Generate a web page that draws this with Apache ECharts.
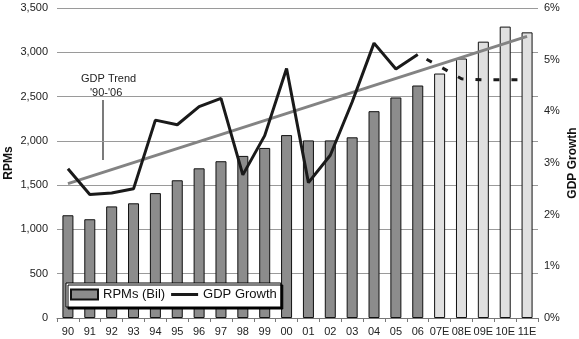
<!DOCTYPE html>
<html><head><meta charset="utf-8">
<script src="https://cdn.jsdelivr.net/npm/echarts@6/dist/echarts.min.js"></script>
<style>html,body{margin:0;padding:0;background:#fff}#c{width:579px;height:339px}</style>
</head><body><div id="c"></div>
<script>
const categories = ['90','91','92','93','94','95','96','97','98','99','00','01','02','03','04','05','06','07E','08E','09E','10E','11E'];
const rpms = [1160,1115,1260,1295,1410,1555,1690,1770,1830,1920,2065,2005,2005,2040,2335,2490,2625,2760,2930,3120,3290,3225];
const estimateFlags = [0,0,0,0,0,0,0,0,0,0,0,0,0,0,0,0,0,1,1,1,1,1];
const gdpActual = [2.89,2.39,2.42,2.50,3.83,3.74,4.09,4.25,2.77,3.53,4.83,2.62,3.15,4.18,5.32,4.82,5.10,null,null,null,null,null];
const gdpForecast = [null,null,null,null,null,null,null,null,null,null,null,null,null,null,null,null,5.10,4.87,4.63,4.61,4.61,4.61];
const gdpTrend = [2.60,null,null,null,null,null,null,null,null,null,null,null,null,null,null,null,null,null,null,null,null,5.45];
const leftTicks = {min:0, max:3500, interval:500};
const rightTicks = {min:0, max:6, interval:1};

const chart = echarts.init(document.getElementById('c'), null, {renderer:'canvas'});
const font = 'Liberation Sans, Arial, sans-serif';
chart.setOption({
  animation:false,
  textStyle:{fontFamily:font},
  grid:{left:57, right:41, top:8, bottom:21, containLabel:false, outerBoundsMode:'none'},
  legend:{
    orient:'horizontal', left:66, top:283,
    padding:[5,4,6,4],
    itemGap:6, itemWidth:27, itemHeight:10,
    backgroundColor:'#fff', borderColor:'#000', borderWidth:1,
    shadowColor:'#000', shadowBlur:0, shadowOffsetX:2, shadowOffsetY:2,
    textStyle:{fontFamily:font, fontSize:13, color:'#111'},
    data:[
      {name:'RPMs (Bil)', icon:'rect'},
      {name:'GDP Growth', icon:'path://M0,0 M27,10 M0,3.5 L27,3.5 L27,6.5 L0,6.5 Z', itemStyle:{color:'#1a1a1a'}}
    ]
  },
  xAxis:{
    type:'category', data:categories, boundaryGap:true,
    axisLine:{lineStyle:{color:'#777', width:1}},
    axisTick:{show:true, alignWithLabel:false, length:4, lineStyle:{color:'#777'}},
    axisLabel:{color:'#222', fontSize:11, margin:8, interval:0}
  },
  yAxis:[{
    type:'value', min:leftTicks.min, max:leftTicks.max, interval:leftTicks.interval,
    name:'RPMs', nameLocation:'middle', nameRotate:90, nameGap:42, nameMoveOverlap:false,
    nameTextStyle:{fontWeight:'bold', fontSize:12, color:'#111'},
    axisLine:{show:false}, axisTick:{show:false},
    splitLine:{lineStyle:{color:'#9a9a9a', width:1}},
    axisLabel:{color:'#222', fontSize:11, margin:9,
      formatter:v=>v.toLocaleString('en-US')}
  },{
    type:'value', min:rightTicks.min, max:rightTicks.max, interval:rightTicks.interval,
    name:'GDP Growth', nameLocation:'middle', nameRotate:90, nameGap:29, nameMoveOverlap:false,
    nameTextStyle:{fontWeight:'bold', fontSize:12, color:'#111'},
    axisLine:{show:false}, axisTick:{show:false},
    splitLine:{show:false},
    axisLabel:{color:'#222', fontSize:11, margin:6, formatter:'{value}%'}
  }],
  graphic:[
    {type:'text', left:81, top:73, style:{text:'GDP Trend', fontSize:11, fontFamily:font, fill:'#222'}},
    {type:'text', left:90, top:87, style:{text:"'90-'06", fontSize:11, fontFamily:font, fill:'#222'}},
    {type:'line', shape:{x1:103, y1:100, x2:103, y2:160}, style:{stroke:'#222', lineWidth:1.2}}
  ],
  series:[
    {name:'RPMs (Bil)', type:'bar', yAxisIndex:0, barWidth:11, z:2,
      itemStyle:{color:'#8c8c8c', borderColor:'#111', borderWidth:1},
      data:rpms.map((v,i)=>estimateFlags[i]?{value:v, itemStyle:{color:'#e0e0e0'}}:v)},
    {name:'GDP Trend', type:'line', yAxisIndex:1, data:gdpTrend, connectNulls:true,
      symbol:'none', z:3, lineStyle:{color:'#838383', width:3}},
    {name:'GDP Growth', type:'line', yAxisIndex:1, data:gdpActual, symbol:'none', z:4,
      itemStyle:{color:'#1a1a1a'},
      lineStyle:{color:'#1a1a1a', width:3}},
    {name:'GDP Forecast', type:'line', yAxisIndex:1, data:gdpForecast, symbol:'none', z:4,
      lineStyle:{color:'#1a1a1a', width:3, type:[6,12], dashOffset:-10}}
  ]
});
</script></body></html>
